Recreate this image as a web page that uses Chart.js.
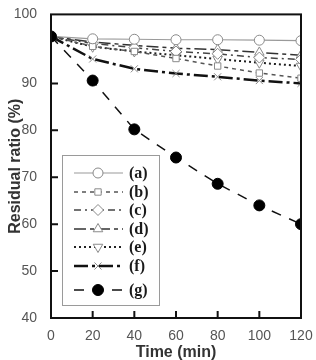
<!DOCTYPE html>
<html>
<head>
<meta charset="utf-8">
<script src="https://cdn.jsdelivr.net/npm/chart.js@4/dist/chart.umd.min.js"></script>
<style>
  html, body { margin: 0; padding: 0; background: #fff; }
  #wrap { width: 316px; height: 360px; }
</style>
</head>
<body>
<div id="wrap"><canvas id="chart" width="316" height="360"></canvas></div>
<script>
const times = [0, 20, 40, 60, 80, 100, 120];
const xTicks = [0, 20, 40, 60, 80, 100, 120];
// top label of the original axis reads 100 but sits at the frame top
const yTickValues = [40, 50, 60, 70, 80, 90, 104.7];
const yTickLabels = ['40', '50', '60', '70', '80', '90', '100'];

const labels = ['(a)', '(b)', '(c)', '(d)', '(e)', '(f)', '(g)'];
const seriesA = [100, 99.5, 99.4, 99.3, 99.3, 99.2, 99.1];
const seriesB = [100, 97.9, 96.8, 95.3, 93.7, 92.2, 91.1];
const seriesC = [100, 98.5, 97.6, 96.8, 96.3, 95.5, 95.1];
const seriesD = [100, 98.8, 98.1, 97.5, 97.2, 96.6, 96.0];
const seriesE = [100, 97.8, 96.8, 96.0, 95.2, 94.4, 93.7];
const seriesF = [100, 95.2, 93.1, 92.1, 91.4, 90.6, 90.0];
const seriesG = [100, 90.6, 80.2, 74.2, 68.6, 64.0, 60.0];

const mk = '#8a8a8a';
function ds(label, data, color, width, dash, style, extra) {
  return Object.assign({
    label: label,
    data: data,
    borderColor: color,
    borderWidth: width,
    borderDash: dash,
    pointStyle: style,
    pointRadius: 5,
    pointBorderColor: mk,
    pointBackgroundColor: '#fff',
    pointBorderWidth: 1,
    tension: 0,
    fill: false
  }, extra || {});
}

const datasets = [
  ds(labels[0], seriesA, '#9a9a9a', 1.2, [], 'circle'),
  ds(labels[1], seriesB, '#555', 1.5, [4, 4], 'rect', { pointRadius: 4.5 }),
  ds(labels[2], seriesC, '#444', 1.5, [7, 4, 2, 4], 'rectRot', { pointRadius: 5.5 }),
  ds(labels[3], seriesD, '#333', 1.5, [12, 4, 4, 4], 'triangle', { pointRadius: 5.5 }),
  ds(labels[4], seriesE, '#222', 2, [2, 3], 'triangle', { pointRotation: 180, pointRadius: 5.5 }),
  ds(labels[5], seriesF, '#111', 2.5, [14, 4, 3, 4], 'crossRot', { pointRadius: 5 }),
  ds(labels[6], seriesG, '#111', 1.5, [10, 9], 'circle', {
    pointBorderColor: '#000', pointBackgroundColor: '#000', pointRadius: 5.5, order: -1
  })
];

// frame + inward ticks
const framePlugin = {
  id: 'frame',
  afterDatasetsDraw(chart) {
    const { ctx, chartArea: a, scales } = chart;
    ctx.save();
    ctx.setLineDash([]);
    ctx.strokeStyle = '#111';
    ctx.lineWidth = 2;
    ctx.strokeRect(a.left, a.top, a.right - a.left, a.bottom - a.top);
    ctx.beginPath();
    scales.y.ticks.forEach(t => {
      const y = scales.y.getPixelForValue(t.value);
      if (y > a.top + 2 && y < a.bottom - 2) { ctx.moveTo(a.left, y); ctx.lineTo(a.left + 7, y); }
    });
    scales.x.ticks.forEach(t => {
      const x = scales.x.getPixelForValue(t.value);
      if (x > a.left + 2 && x < a.right - 2) { ctx.moveTo(x, a.bottom); ctx.lineTo(x, a.bottom - 7); }
    });
    ctx.stroke();
    ctx.restore();
  }
};

// legend drawn like the original: line sample with marker in the middle
const legendRows = [173, 192, 210, 229, 247, 266, 290];
const legendPlugin = {
  id: 'boxLegend',
  afterDraw(chart) {
    const ctx = chart.ctx;
    ctx.save();
    ctx.fillStyle = '#fff';
    ctx.fillRect(62, 155, 98, 151);
    ctx.strokeStyle = '#9a9a9a';
    ctx.lineWidth = 1;
    ctx.setLineDash([]);
    ctx.strokeRect(62.5, 155.5, 97, 150);
    chart.data.datasets.forEach((d, i) => {
      const y = legendRows[i];
      ctx.strokeStyle = d.borderColor;
      ctx.lineWidth = d.borderWidth;
      ctx.setLineDash(d.borderDash);
      ctx.beginPath();
      ctx.moveTo(74, y);
      ctx.lineTo(123, y);
      ctx.stroke();
      ctx.setLineDash([]);
      ctx.strokeStyle = d.pointBorderColor;
      ctx.fillStyle = d.pointBackgroundColor;
      ctx.lineWidth = d.pointBorderWidth;
      Chart.helpers.drawPoint(ctx, {
        pointStyle: d.pointStyle,
        rotation: d.pointRotation || 0,
        radius: d.pointRadius,
        borderWidth: d.pointBorderWidth
      }, 98, y);
      ctx.fillStyle = '#1a1a1a';
      ctx.font = 'bold 16px "Liberation Serif", serif';
      ctx.textAlign = 'left';
      ctx.textBaseline = 'middle';
      ctx.fillText(d.label, 129, y + 1);
    });
    ctx.restore();
  }
};

new Chart(document.getElementById('chart'), {
  type: 'line',
  data: { labels: times, datasets: datasets },
  plugins: [framePlugin, legendPlugin],
  options: {
    responsive: false,
    animation: false,
    layout: { padding: { left: 0, top: 7, right: 15, bottom: 0 } },
    plugins: { legend: { display: false }, tooltip: { enabled: false } },
    scales: {
      x: {
        type: 'linear',
        min: 0,
        max: 120,
        afterBuildTicks: s => { s.ticks = xTicks.map(v => ({ value: v })); },
        afterFit: s => { s.height = 42; },
        grid: { display: false },
        border: { display: false },
        ticks: { color: '#555', padding: 2, font: { family: '"Liberation Sans", Arial', size: 14 } },
        title: {
          display: true,
          text: 'Time (min)',
          color: '#333',
          padding: { top: 0, bottom: -2 },
          font: { family: '"Liberation Sans", Arial', size: 16, weight: 'bold' }
        }
      },
      y: {
        min: 40,
        max: 104.7,
        afterBuildTicks: s => { s.ticks = yTickValues.map(v => ({ value: v })); },
        afterFit: s => { s.width = 51; },
        grid: { display: false },
        border: { display: false },
        ticks: {
          color: '#555',
          padding: 6,
          font: { family: '"Liberation Sans", Arial', size: 14 },
          callback: (v, i) => yTickLabels[i]
        },
        title: {
          display: true,
          text: 'Residual ratio (%)',
          color: '#333',
          padding: { top: 6, bottom: 4 },
          font: { family: '"Liberation Sans", Arial', size: 16, weight: 'bold' }
        }
      }
    }
  }
});
</script>
</body>
</html>
